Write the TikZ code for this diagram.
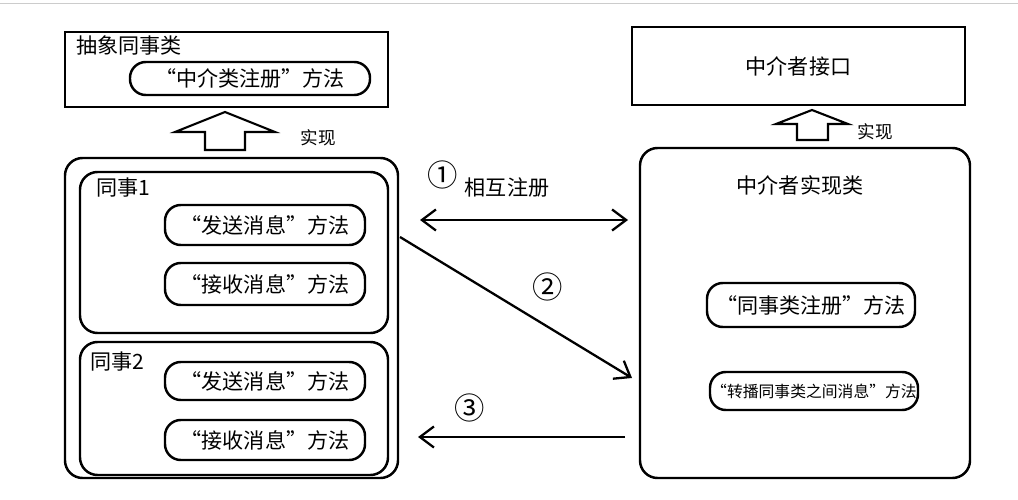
\documentclass[tikz,border=0pt]{standalone}
\usepackage{fontspec}
\setmainfont{Noto Sans CJK SC}
\usetikzlibrary{arrows.meta,positioning}
\begin{document}
\begin{tikzpicture}[x=0.02cm,y=-0.02cm,
    box/.style={draw=black, line width=1.4pt, inner sep=0pt},
    roundbox/.style={box, rounded corners=10pt},
    pill/.style={draw=black, line width=1.4pt, rounded corners=9pt, inner sep=0pt, font=\large},
    tag/.style={anchor=west, font=\large},
    hollow/.style={draw=black, line width=1.2pt, fill=white},
    link/.style={line width=1.3pt, -{Straight Barb[length=8pt,width=12pt]}}]
    \useasboundingbox (0,0) rectangle (1018,500);
    \draw[gray!40] (0,3) -- (1018,3);
    % left side: abstract colleague
    \node (abstract) [box, minimum width=323*0.02cm, minimum height=75*0.02cm] at (226.5,69.5) {};
    \node [tag] at (70,45) {抽象同事类};
    \node (regA) [pill, minimum width=240*0.02cm, minimum height=33*0.02cm] at (250,78.5) {“中介类注册”方法};
    \draw[hollow] (205,150) -- (245,150) -- (245,132) -- (275,132) -- (225,112) -- (175,132) -- (205,132) -- cycle;
    \node at (318,138) {实现};
    \node (colleagues) [roundbox, minimum width=333*0.02cm, minimum height=320*0.02cm] at (231.5,318) {};
    % colleague 1
    \node (c1) [roundbox, minimum width=308*0.02cm, minimum height=161*0.02cm] at (234,252.5) {};
    \node [tag] at (90,188) {同事1};
    \node (send1) [pill, minimum width=200*0.02cm, minimum height=40*0.02cm] at (265,225) {“发送消息”方法};
    \node (recv1) [pill, minimum width=200*0.02cm, minimum height=42*0.02cm] at (265,284) {“接收消息”方法};
    % colleague 2
    \node (c2) [roundbox, minimum width=308*0.02cm, minimum height=133*0.02cm] at (234,408.5) {};
    \node [tag] at (84,362) {同事2};
    \node (send2) [pill, minimum width=200*0.02cm, minimum height=38*0.02cm] at (265,381) {“发送消息”方法};
    \node (recv2) [pill, minimum width=200*0.02cm, minimum height=40*0.02cm] at (265,440) {“接收消息”方法};
    % right side: mediator
    \node (iface) [box, minimum width=333*0.02cm, minimum height=78*0.02cm, font=\large] at (798.5,66) {中介者接口};
    \draw[hollow] (797,140) -- (828,140) -- (828,124) -- (848,124) -- (812,110) -- (776,124) -- (797,124) -- cycle;
    \node at (875,132) {实现};
    \node (mediator) [roundbox, minimum width=330*0.02cm, minimum height=330*0.02cm] at (805,313) {};
    \node [font=\large] at (800,185) {中介者实现类};
    \node (regB) [pill, minimum width=208*0.02cm, minimum height=44*0.02cm] at (811,305) {“同事类注册”方法};
    \node (relay) [pill, minimum width=208*0.02cm, minimum height=38*0.02cm, font=\small] at (814,391) {“转播同事类之间消息”方法};
    % interactions
    \coordinate (a1) at (420,220); \coordinate (b1) at (628,220);
    \draw[link, {Straight Barb[length=8pt,width=12pt]}-{Straight Barb[length=8pt,width=12pt]}] (a1) -- (b1);
    \node [font=\LARGE] at (443,175) {①};
    \node [font=\large] at (507,188) {相互注册};
    \coordinate (a2) at (400,237); \coordinate (b2) at (632,378);
    \draw[link] (a2) -- (b2);
    \node [font=\LARGE] at (548,287) {②};
    \coordinate (a3) at (625,437); \coordinate (b3) at (418,437);
    \draw[link] (a3) -- (b3);
    \node [font=\LARGE] at (470,408) {③};
\end{tikzpicture}
\end{document}
